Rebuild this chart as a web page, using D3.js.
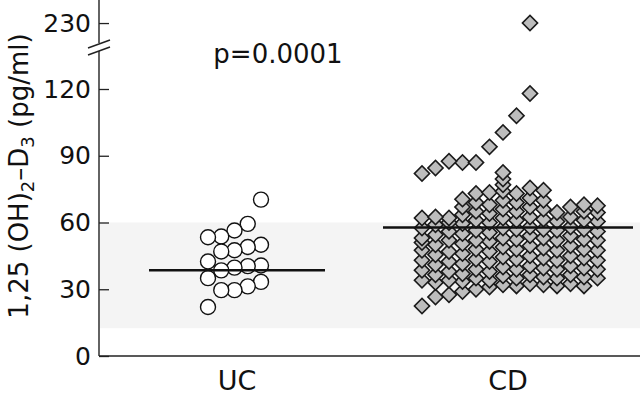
<!DOCTYPE html>
<html>
<head>
<meta charset="utf-8">
<script src="https://cdn.jsdelivr.net/npm/d3@7"></script>
<style>
  body { margin: 0; background: #fff; }
  svg { display: block; font-family: "DejaVu Sans", sans-serif; }
</style>
</head>
<body>
<svg id="chart" width="640" height="396"></svg>
<script>
// groups and summary values
const groups = ['UC', 'CD'];
const centerLines = [38.5, 57.8];
const normalRange = [12.5, 60];
const pText = 'p=0.0001';

const lowTicks = [0, 30, 60, 90, 120];
const highTicks = [230];

// UC values (sorted high -> low, laid out 5 per row)
const ucValues = [70.3, 59.4, 56.4, 53.7, 53.4, 50, 49, 47.5, 47, 42.5,
                  40.7, 40.4, 39.7, 38.5, 35, 33.3, 31.3, 29.6, 29.6, 22];

// CD values, one array per column of the dot plot (left -> right)
const cdColumns = [
  [22.5, 34, 38.5, 43, 47.5, 51, 53, 57.5, 62, 82],
  [26.5, 33, 36.5, 41, 45.5, 50, 54.5, 59, 62.5, 84.5],
  [27.5, 34, 38, 42.5, 47, 52, 56, 60, 62, 87.5],
  [29, 33.5, 37, 41.5, 46, 50.5, 55, 59.5, 63.5, 67, 70.5, 87],
  [30, 35, 39, 43.5, 48, 52, 56.5, 61, 65, 69, 73, 87],
  [31, 34, 38, 42.5, 47, 51.5, 55.5, 60, 64, 68, 73.5, 94],
  [32, 36, 40, 44.5, 49, 53, 57.5, 62, 66, 70, 74, 77, 79.5, 82.5, 100.5],
  [31.5, 35, 39, 43.5, 48, 52.5, 57, 61, 65, 69, 73, 108],
  [32.5, 36.5, 40.5, 45, 49.5, 54, 58, 62.5, 67, 71, 75.5, 118, 230],
  [32, 35.5, 39.5, 44, 48.5, 53, 57, 61.5, 66, 70, 74.5],
  [31.5, 35, 39, 43, 47.5, 52, 56.5, 60.5, 64.5],
  [32.5, 36.5, 40.5, 45, 49.5, 54, 58, 62.5, 67],
  [31.5, 35.5, 39.5, 44, 48, 52.5, 57, 61, 65, 68],
  [35, 39, 43, 47.5, 52, 56, 60.5, 64.5, 67.5]
];

const svg = d3.select('svg#chart');
const axisX = 99;
const baseY = 356;
const breakAt = 150; // values above this go on the upper segment

const yLow = d3.scaleLinear().domain([0, 120]).range([baseY, 89]);
const yHigh = d3.scaleLinear().domain([220, 240]).range([45.3, 0.8]);
const yScale = v => v > breakAt ? yHigh(v) : yLow(v);

const xScale = d3.scalePoint().domain(groups).range([237, 508]);
const lineHalf = { UC: 88, CD: 125 };

// reference band
svg.append('rect')
  .attr('x', axisX + 1)
  .attr('y', yLow(normalRange[1]))
  .attr('width', 640 - axisX - 1)
  .attr('height', yLow(normalRange[0]) - yLow(normalRange[1]))
  .attr('fill', '#f4f4f4');

// axes
const styleAxis = g => {
  g.select('.domain').remove();
  g.selectAll('.tick line').attr('stroke', '#222').attr('stroke-width', 1.3);
  g.selectAll('.tick text')
    .attr('font-size', 25)
    .attr('font-family', '"DejaVu Sans", sans-serif')
    .attr('fill', '#111');
};
const lowAxis = d3.axisLeft(yLow).tickValues(lowTicks).tickSize(-10).tickPadding(8);
const highAxis = d3.axisLeft(yHigh).tickValues(highTicks).tickSize(-10).tickPadding(8);

svg.append('g')
  .attr('transform', `translate(${axisX},0)`)
  .call(lowAxis)
  .call(styleAxis);
svg.append('g')
  .attr('transform', `translate(${axisX},0)`)
  .call(highAxis)
  .call(styleAxis);

const axisLines = [
  [axisX, baseY, axisX, 51],
  [axisX, 43, axisX, 0],
  [axisX, baseY, 640, baseY],
  [88, 48, 110, 40],
  [88, 55, 110, 47]
];
svg.selectAll('line.axis-line').data(axisLines).enter().append('line')
  .attr('class', 'axis-line')
  .attr('x1', d => d[0]).attr('y1', d => d[1])
  .attr('x2', d => d[2]).attr('y2', d => d[3])
  .attr('stroke', '#222')
  .attr('stroke-width', 1.4);

// x labels
svg.selectAll('text.group-label').data(groups).enter().append('text')
  .attr('class', 'group-label')
  .attr('x', d => xScale(d))
  .attr('y', 390)
  .attr('text-anchor', 'middle')
  .attr('font-size', 27)
  .attr('fill', '#111')
  .text(d => d);

// y label
const yLabel = svg.append('text')
  .attr('transform', 'translate(28,176) rotate(-90)')
  .attr('text-anchor', 'middle')
  .attr('font-size', 26)
  .attr('fill', '#111');
yLabel.append('tspan').text('1,25 (OH)');
yLabel.append('tspan').attr('dy', 6).attr('font-size', 18).text('2');
yLabel.append('tspan').attr('dy', -6).text('\u2013D');
yLabel.append('tspan').attr('dy', 6).attr('font-size', 18).text('3');
yLabel.append('tspan').attr('dy', -6).text(' (pg/ml)');

// p value
svg.append('text')
  .attr('x', 278)
  .attr('y', 63)
  .attr('text-anchor', 'middle')
  .attr('font-size', 26)
  .attr('fill', '#111')
  .text(pText);

// UC circles
const ucOffset = d3.scaleLinear().domain([0, 4]).range([-29, 24]);
const ucPoints = ucValues.map((v, i) => ({ v, col: 4 - (i % 5) }));
svg.selectAll('circle.uc').data(ucPoints).enter().append('circle')
  .attr('class', 'uc')
  .attr('cx', d => xScale('UC') + ucOffset(d.col))
  .attr('cy', d => yScale(d.v))
  .attr('r', 7.5)
  .attr('fill', '#fff')
  .attr('stroke', '#111')
  .attr('stroke-width', 1.4);

// CD diamonds, lower ones drawn first
const cdOffset = d3.scaleLinear().domain([0, cdColumns.length - 1]).range([-86, 89.5]);
const cdPoints = [];
cdColumns.forEach((col, k) => col.forEach(v => cdPoints.push({ v, col: k })));
cdPoints.sort((a, b) => a.v - b.v);

const diamond = d3.symbol(d3.symbolSquare, 115);
svg.selectAll('path.cd').data(cdPoints).enter().append('path')
  .attr('class', 'cd')
  .attr('d', diamond)
  .attr('transform', d => `translate(${xScale('CD') + cdOffset(d.col)},${yScale(d.v)}) rotate(45)`)
  .attr('fill', '#bdbdbd')
  .attr('stroke', '#1a1a1a')
  .attr('stroke-width', 1.6);

// center lines
svg.selectAll('line.center').data(groups).enter().append('line')
  .attr('class', 'center')
  .attr('x1', d => xScale(d) - lineHalf[d])
  .attr('x2', d => xScale(d) + lineHalf[d])
  .attr('y1', (d, i) => yScale(centerLines[i]))
  .attr('y2', (d, i) => yScale(centerLines[i]))
  .attr('stroke', '#111')
  .attr('stroke-width', 2.5);
</script>
</body>
</html>
